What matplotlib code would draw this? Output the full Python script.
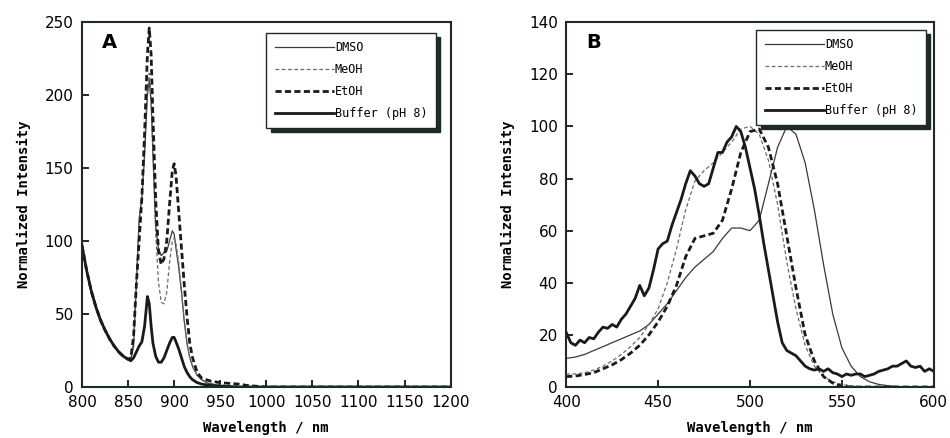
"""
Normalized emission spectra in four solvents: NIR region (A) and visible region (B).
"""

import matplotlib
matplotlib.use("Agg")
import matplotlib.pyplot as plt

# Panel A: 800 - 1200 nm
wl_a = [800, 805, 810, 815, 820, 825, 830, 835, 840, 845, 850, 853, 856, 859,
        862, 865, 868, 871, 873, 875, 877, 880, 883, 886, 889, 892, 895, 898,
        900, 902, 905, 908, 911, 914, 917, 920, 925, 930, 935, 940, 950, 960,
        970, 980, 990, 1000, 1050, 1100, 1150, 1200]
dmso_a = [97, 80, 66, 55, 46, 39, 33, 28, 24, 21, 19, 19, 28, 70,
          115, 130, 160, 200, 210, 195, 160, 110, 95, 90, 92, 93, 100, 107,
          105, 95, 82, 65, 45, 30, 20, 14, 8, 5, 3, 2, 1, 0.5,
          0.3, 0, 0, 0, 0, 0, 0, 0]
meoh_a = [97, 80, 66, 55, 46, 39, 33, 28, 24, 21, 19, 20, 32, 75,
          112, 127, 165, 205, 215, 200, 160, 105, 72, 58, 57, 65, 85, 100,
          102, 98, 85, 65, 45, 30, 20, 14, 8, 5, 3.5, 2.5, 1.5, 1,
          0.5, 0.2, 0, 0, 0, 0, 0, 0]
etoh_a = [97, 80, 66, 55, 46, 39, 33, 28, 24, 21, 19, 20, 35, 70,
          100, 130, 175, 228, 246, 228, 185, 128, 93, 84, 88, 100, 125, 148,
          153, 145, 120, 95, 70, 48, 30, 20, 10, 6, 5, 4, 3, 2.5,
          2, 1, 0.5, 0, 0, 0, 0, 0]
buffer_a = [97, 80, 66, 55, 46, 39, 33, 28, 24, 21, 19, 18, 20, 24,
            28, 31, 42, 62, 57, 42, 30, 21, 17, 17, 20, 25, 30, 34,
            34, 31, 26, 20, 14, 10, 7, 5, 3, 2, 1.5, 1, 0.5, 0.3,
            0, 0, 0, 0, 0, 0, 0, 0]

# Panel B: 400 - 600 nm
wl_b = [400, 405, 410, 415, 420, 425, 430, 435, 440, 445, 450, 455, 460, 465,
        470, 475, 480, 485, 490, 495, 500, 505, 510, 515, 520, 525, 530, 535,
        540, 545, 550, 555, 560, 565, 570, 575, 580, 585, 590, 595, 600]
dmso_b = [11, 11.5, 12.5, 14, 15.5, 17, 18.5, 20, 21.5, 24, 28, 32, 37, 42,
          46, 49, 52, 57, 61, 61, 60, 64, 78, 92, 100, 97, 86, 68,
          47, 28, 15, 8, 4, 2, 1, 0.5, 0.2, 0, 0, 0, 0]
meoh_b = [5, 5, 5.5, 6.5, 8, 10, 12.5, 15.5, 19, 24, 30, 40, 53, 68,
          79, 83, 86, 90, 94, 99, 100, 97, 87, 70, 48, 30, 16, 8,
          4, 2, 1, 0.5, 0, 0, 0, 0, 0, 0, 0, 0, 0]
etoh_b = [4, 4.2, 4.8, 5.5, 7, 8.5, 10.5, 13, 16, 20, 25, 31, 39, 50,
          57, 58, 59, 64, 76, 90, 98, 99, 92, 78, 58, 38, 20, 10,
          4, 1.5, 0.3, 0, 0, 0, 0, 0, 0, 0, 0, 0, 0]

# buffer is noisy, sampled finer
wl_buffer_b = [400 + 2.5 * i for i in range(81)]
buffer_b = [21, 17, 16, 18, 17, 19, 18.5, 21, 23, 22.5, 24, 23, 26, 28, 31,
            34, 39, 35, 38, 45, 53, 55, 56, 62, 67, 72, 78, 83, 81, 78,
            77, 78, 84, 90, 90, 94, 96, 100, 98, 92, 84, 76, 66, 55, 45,
            35, 25, 17, 14, 13, 12, 10, 8, 7, 6.5, 7, 6, 7, 5.5, 5,
            4, 5, 4.5, 5, 5, 4, 4.5, 5, 6, 6.5, 7, 8, 8, 9, 10,
            8, 7.5, 8, 6, 7, 6]

labels = ["DMSO", "MeOH", "EtOH", "Buffer (pH 8)"]
styles = [
    dict(color="#3a3a3a", lw=0.9, ls="-"),
    dict(color="#6a6a6a", lw=0.9, ls=(0, (3, 2))),
    dict(color="#1a1a1a", lw=2.0, ls=(0, (2.2, 1.2))),
    dict(color="#1a1a1a", lw=2.0, ls="-"),
]

MONO = "DejaVu Sans Mono"


def style_axes(ax, letter, legend_corner):
    """
    Ticks, labels, panel letter and shadowed legend
    """
    for s in ax.spines.values():
        s.set_linewidth(1.5)
        s.set_color("#1e2a24")
    ax.tick_params(direction="in", length=5, width=1.2, labelsize=11,
                   top=False, right=False, pad=6)
    ax.set_xlabel("Wavelength / nm", fontfamily=MONO, fontweight="bold",
                  fontsize=10, labelpad=8)
    ax.set_ylabel("Normalized Intensity", fontfamily=MONO, fontweight="bold",
                  fontsize=10, labelpad=10)
    ax.text(0.055, 0.945, letter, transform=ax.transAxes, fontsize=14,
            fontweight="bold", va="center", ha="left")
    leg = ax.legend(loc="upper right", bbox_to_anchor=legend_corner,
                    prop={"family": MONO, "size": 8.5},
                    handlelength=5.0, handletextpad=0.1, labelspacing=0.75,
                    borderpad=0.7, borderaxespad=0, fancybox=False,
                    framealpha=1, edgecolor="#1e2a24",
                    shadow={"color": "#1e2a24", "alpha": 1, "ox": 3, "oy": -3})
    leg.get_frame().set_linewidth(1.0)


fig = plt.figure(figsize=(9.5, 4.38), dpi=100)
ax_a = fig.add_axes([0.0863, 0.1164, 0.388, 0.833])
ax_b = fig.add_axes([0.596, 0.1164, 0.387, 0.833])

for ys, lab, st in zip([dmso_a, meoh_a, etoh_a, buffer_a], labels, styles):
    ax_a.plot(wl_a, ys, label=lab, **st)
ax_a.set_xlim(800, 1200)
ax_a.set_ylim(0, 250)
ax_a.set_xticks(range(800, 1201, 50))
ax_a.set_yticks(range(0, 251, 50))
style_axes(ax_a, "A", (0.96, 0.97))

for ys, lab, st in zip([dmso_b, meoh_b, etoh_b], labels[:3], styles[:3]):
    ax_b.plot(wl_b, ys, label=lab, **st)
ax_b.plot(wl_buffer_b, buffer_b, label=labels[3], **styles[3])
ax_b.set_xlim(400, 600)
ax_b.set_ylim(0, 140)
ax_b.set_xticks(range(400, 601, 50))
ax_b.set_yticks(range(0, 141, 20))
style_axes(ax_b, "B", (0.978, 0.978))

fig.savefig("out.png", dpi=100)
